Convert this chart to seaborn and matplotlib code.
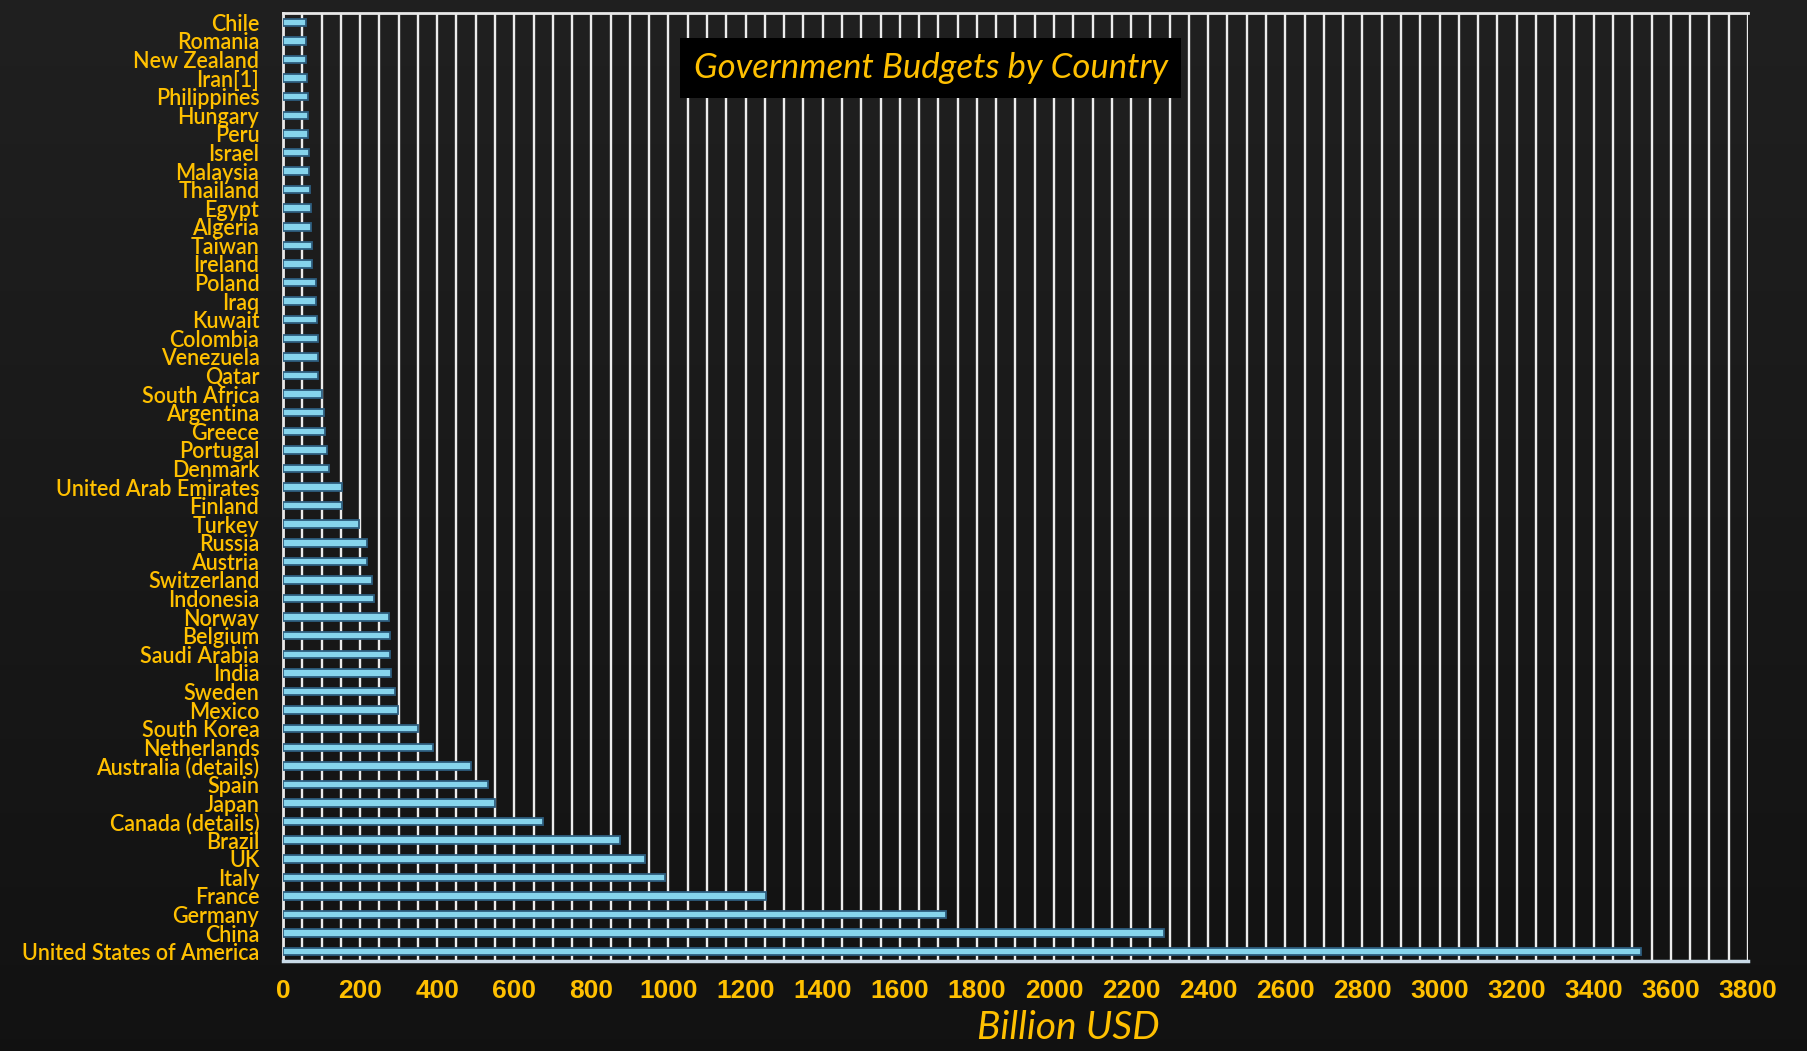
import matplotlib
matplotlib.use("Agg")
import matplotlib.pyplot as plt
import seaborn as sns
import pandas as pd
import numpy as np

countries = [
    "Chile", "Romania", "New Zealand", "Iran[1]", "Philippines", "Hungary", "Peru",
    "Israel", "Malaysia", "Thailand", "Egypt", "Algeria", "Taiwan", "Ireland",
    "Poland", "Iraq", "Kuwait", "Colombia", "Venezuela", "Qatar", "South Africa",
    "Argentina", "Greece", "Portugal", "Denmark", "United Arab Emirates", "Finland",
    "Turkey", "Russia", "Austria", "Switzerland", "Indonesia", "Norway", "Belgium",
    "Saudi Arabia", "India", "Sweden", "Mexico", "South Korea", "Netherlands",
    "Australia (details)", "Spain", "Japan", "Canada (details)", "Brazil", "UK",
    "Italy", "France", "Germany", "China", "United States of America",
]
budgets = [
    60, 60, 60, 63, 66, 66, 66,
    68, 68, 70, 73, 73, 76, 76,
    85, 86, 89, 92, 92, 92, 101,
    107, 109, 113, 120, 153, 154,
    196, 217, 219, 232, 237, 274, 278,
    278, 281, 291, 299, 351, 389,
    488, 532, 551, 675, 875, 939,
    991, 1253, 1721, 2285, 3522,
]
x_ticks = list(range(0, 3801, 200))
grid_step = 50

title_text = "Government Budgets by Country"
x_label = "Billion USD"

BG = "#191919"
YELLOW = "#ffc000"
BAR = "#86d4ec"
BAR_EDGE = "#2d5d7e"
GRID = "#ececec"

df = pd.DataFrame({"country": countries, "budget": budgets})

sns.set_theme(style="dark")
plt.rcParams["font.family"] = ["Lato", "DejaVu Sans"]

fig = plt.figure(figsize=(18.07, 10.51), dpi=100, facecolor=BG)

# chalkboard-like backdrop: slightly lighter at the top, darker at the bottom
bg_ax = fig.add_axes([0, 0, 1, 1], zorder=-10)
shade = np.linspace(0.125, 0.07, 256)[:, None] * np.ones((1, 4))
bg_ax.imshow(np.dstack([shade, shade, shade]), aspect="auto", extent=(0, 1, 0, 1))
bg_ax.set_axis_off()

ax = fig.add_axes([0.1566, 0.0856, 0.8107, 0.902])
ax.patch.set_alpha(0)

sns.barplot(data=df, x="budget", y="country", orient="h", order=countries,
            color=BAR, edgecolor=BAR_EDGE, linewidth=1.3, width=0.4,
            saturation=1, ax=ax, zorder=3)

ax.set_xlim(0, x_ticks[-1])
ax.set_ylim(len(countries) - 0.5, -0.5)
ax.set_xticks(x_ticks)
ax.set_xticks(list(range(0, x_ticks[-1] + 1, grid_step)), minor=True)
ax.grid(True, axis="x", which="both", color=GRID, linewidth=1.7, zorder=1)
ax.grid(False, axis="y")
ax.set_axisbelow(True)

ax.tick_params(axis="both", which="both", length=0)
ax.tick_params(axis="x", pad=13, labelsize=19, labelcolor=YELLOW)
ax.tick_params(axis="y", pad=17, labelsize=15.5, labelcolor=YELLOW)
for lbl in ax.get_xticklabels():
    lbl.set_fontweight("bold")
    lbl.set_family(["Liberation Sans", "DejaVu Sans"])
for lbl in ax.get_yticklabels():
    lbl.set_fontweight("semibold")

for side in ["left", "top", "right"]:
    ax.spines[side].set_visible(side != "right")
    ax.spines[side].set_color("#e8e8e8")
    ax.spines[side].set_linewidth(2)
ax.spines["bottom"].set_color("#c9dbe8")
ax.spines["bottom"].set_linewidth(2.5)

ax.set_ylabel("")
ax.set_xlabel(x_label, color=YELLOW, fontsize=28, style="italic")
ax.xaxis.label.set_va("center")
ax.xaxis.set_label_coords(0.536, -0.0707)

fig.text(0.515, 0.9353, title_text, ha="center", va="center", color=YELLOW,
         fontsize=25, style="italic",
         bbox=dict(boxstyle="square,pad=0.4", facecolor="black", edgecolor="none"))

fig.savefig("out.png", dpi=100, facecolor=BG)
